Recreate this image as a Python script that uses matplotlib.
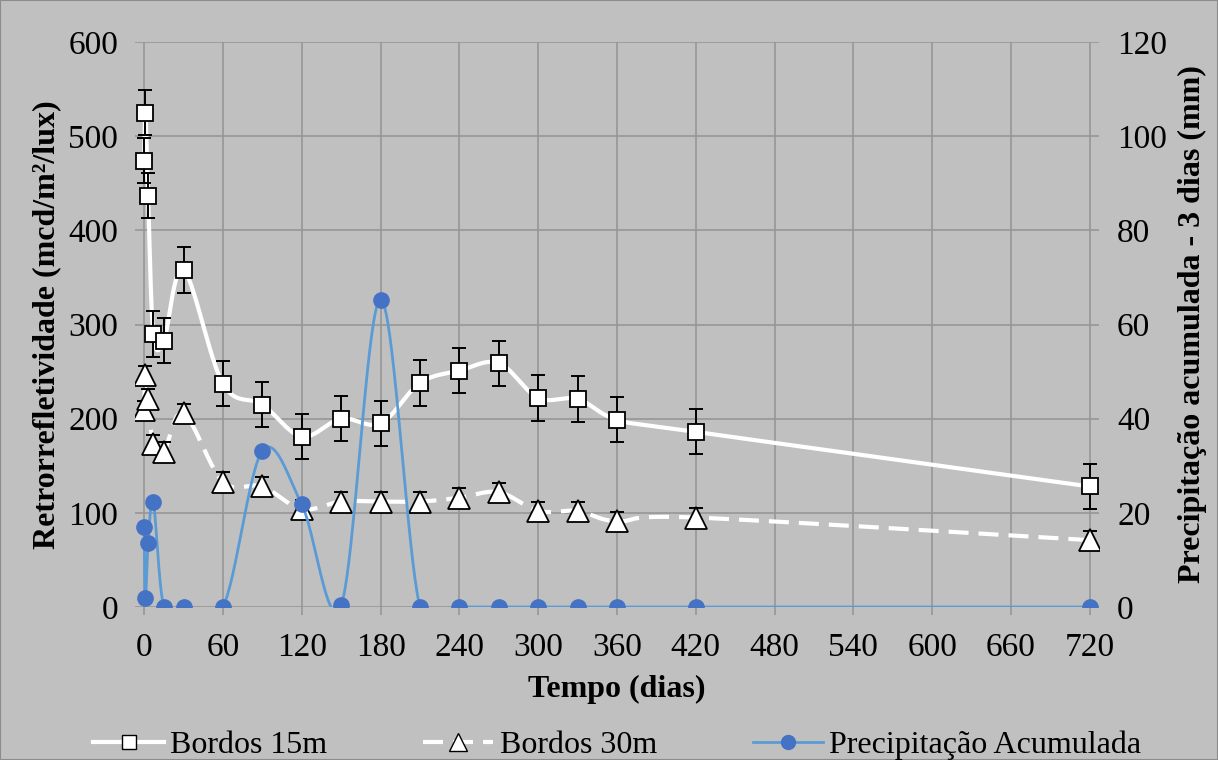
import numpy as np
import matplotlib
matplotlib.use('Agg')
import matplotlib.pyplot as plt
from matplotlib.patches import Rectangle

plt.rcParams['font.family'] = ['Liberation Serif', 'DejaVu Serif']

# Data
dias = [0, 1, 3, 7, 15, 30, 60, 90, 120, 150, 180, 210, 240, 270, 300, 330, 360, 420, 720]
bordos_15m = [474, 525, 437, 290, 283, 358, 237, 215, 181, 200, 195, 238, 251, 259, 222, 221, 199, 186, 128]
erro_15m = [24] * len(dias)
bordos_30m = [209, 246, 221, 173, 165, 206, 133, 128, 104, 112, 112, 112, 116, 122, 102, 102, 91, 95, 71]
erro_30m = [10] * len(dias)
precip = [17.1, 1.9, 13.5, 22.2, 0, 0, 0, 33.2, 21.8, 0.4, 65.3, 0, 0, 0, 0, 0, 0, 0, 0]

BG = '#C0C0C0'
GRID = '#969696'
BLUE_LINE = '#5B9BD5'
BLUE_MARK = '#4472C4'


def smooth(x, y, n=40):
    # Excel-like smoothed line: Catmull-Rom through the points as cubic Bezier
    x = np.asarray(x, float)
    y = np.asarray(y, float)
    p = np.column_stack([x, y])
    out = [p[0]]
    t = np.linspace(0, 1, n)[1:, None]
    for i in range(len(p) - 1):
        p0 = p[i - 1] if i > 0 else p[i]
        p1, p2 = p[i], p[i + 1]
        p3 = p[i + 2] if i + 2 < len(p) else p[i + 1]
        c1 = p1 + (p2 - p0) / 6
        c2 = p2 - (p3 - p1) / 6
        seg = ((1 - t) ** 3) * p1 + 3 * ((1 - t) ** 2) * t * c1 + 3 * (1 - t) * t ** 2 * c2 + t ** 3 * p2
        out.extend(seg)
    out = np.array(out)
    return out[:, 0], out[:, 1]


fig = plt.figure(figsize=(12.18, 7.6), dpi=100, facecolor=BG)
ax = fig.add_axes([0.1108, 0.2013, 0.7915, 0.7434], facecolor=BG)
fig.patches.append(Rectangle((0, 0), 1, 1, transform=fig.transFigure, fill=False,
                             edgecolor='#8C8C8C', linewidth=1.5))

DASH = (4.8, 2.4)

# Bordos 15m
sx, sy = smooth(dias, bordos_15m)
ax.plot(sx, sy, color='white', linewidth=3, zorder=3)
ax.errorbar(dias, bordos_15m, yerr=erro_15m, fmt='none', ecolor='black',
            elinewidth=1.4, capsize=5, capthick=1.4, zorder=4)
ax.plot(dias, bordos_15m, linestyle='none', marker='s', markersize=11,
        markerfacecolor='white', markeredgecolor='black', markeredgewidth=1.3, zorder=5)

# Bordos 30m
sx, sy = smooth(dias, bordos_30m)
ax.plot(sx, sy, color='white', linewidth=3, dashes=DASH, zorder=3)
ax.errorbar(dias, bordos_30m, yerr=erro_30m, fmt='none', ecolor='black',
            elinewidth=1.4, capsize=5, capthick=1.4, zorder=4)
ax.plot(dias, bordos_30m, linestyle='none', marker='^', markersize=15.5,
        markerfacecolor='white', markeredgecolor='black', markeredgewidth=1.3, zorder=5)

ax.set_xlim(-7, 727)
ax.set_ylim(0, 600)
ax.set_xticks(np.arange(0, 721, 60))
ax.set_yticks(np.arange(0, 601, 100))
ax.grid(True, color=GRID, linewidth=1.2)
ax.set_axisbelow(True)
for s in ax.spines.values():
    s.set_visible(False)
ax.tick_params(axis='x', direction='out', length=6, width=1.2, color=GRID,
               labelsize=24, pad=12)
ax.tick_params(axis='y', length=0, labelsize=24, pad=12)
ax.set_xlabel('Tempo (dias)', fontsize=23, fontweight='bold', labelpad=9)
ax.set_ylabel('Retrorrefletividade (mcd/m²/lux)', fontsize=23, fontweight='bold', labelpad=5)

# Precipitacao (eixo secundario)
ax2 = ax.twinx()
sx, sy = smooth(dias, precip)
ax2.plot(sx, sy, color=BLUE_LINE, linewidth=2, zorder=3)
ax2.plot(dias, precip, linestyle='none', marker='o', markersize=11,
         markerfacecolor=BLUE_MARK, markeredgecolor=BLUE_MARK, zorder=4)
ax2.set_ylim(0, 120)
ax2.set_yticks(np.arange(0, 121, 20))
for s in ax2.spines.values():
    s.set_visible(False)
ax2.tick_params(axis='y', length=0, labelsize=24, pad=13)
ax2.set_ylabel('Precipitação acumulada - 3 dias (mm)', fontsize=23, fontweight='bold', labelpad=8)

# Legend
h1, = ax.plot([], [], color='white', linewidth=3, marker='s', markersize=10,
              markerfacecolor='white', markeredgecolor='black')
h2, = ax.plot([], [], color='white', linewidth=3, dashes=DASH, marker='^', markersize=13,
              markerfacecolor='white', markeredgecolor='black')
h3, = ax.plot([], [], color=BLUE_LINE, linewidth=2, marker='o', markersize=10,
              markerfacecolor=BLUE_MARK, markeredgecolor=BLUE_MARK)
fig.legend([h1, h2, h3], ['Bordos 15m', 'Bordos 30m', 'Precipitação Acumulada'],
           loc='center', bbox_to_anchor=(0.507, 0.019), ncol=3, frameon=False,
           fontsize=23, handlelength=2.2, columnspacing=3.0, handletextpad=0.2)

fig.savefig('out.png', dpi=100, facecolor=BG)
